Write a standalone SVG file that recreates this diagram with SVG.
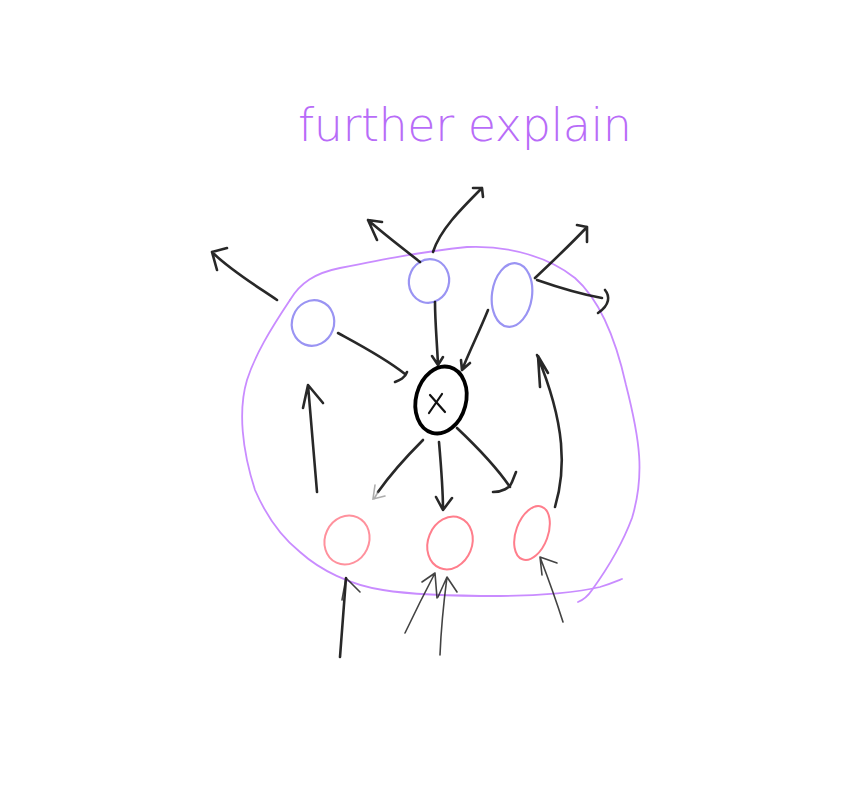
<svg xmlns="http://www.w3.org/2000/svg" width="847" height="792" viewBox="0 0 847 792">
<style>
.ink{fill:none;stroke:#111;stroke-width:2.6;stroke-linecap:round;stroke-linejoin:round;opacity:0.9}
.thin{fill:none;stroke:#222;stroke-width:1.6;stroke-linecap:round;stroke-linejoin:round;opacity:0.85}
.faint{fill:none;stroke:#777;stroke-width:1.6;stroke-linecap:round;opacity:0.6}
.blue{fill:none;stroke:#9a94f3;stroke-width:2.2}
.red{fill:none;stroke:#ff7e8c;stroke-width:2}
.outline{fill:none;stroke:#c98cff;stroke-width:1.8;stroke-linecap:round}
</style>
<rect width="847" height="792" fill="#ffffff"/>
<text x="298" y="141" font-family="DejaVu Sans, Liberation Sans, sans-serif" font-weight="200" font-size="46" fill="#b86cf8" textLength="334" lengthAdjust="spacing">further explain</text>
<g id="boundary">
<path class="outline" d="M290,300 C300,283 315,273 340,268 C380,260 420,252 467,247 C510,245 550,258 575,278 C600,300 616,340 626,385 C640,440 645,475 632,518 C622,545 605,572 592,590 C588,596 583,600 578,602"/>
<path class="outline" d="M290,300 C270,330 255,355 247,380 C238,410 242,450 255,490 C268,520 285,540 300,552 C320,570 350,585 383,590 C420,596 470,596 500,596 C540,596 580,592 600,587 C610,584 617,581 622,579"/>
</g>
<g id="node-a"><ellipse class="blue" cx="313" cy="323" rx="21" ry="23" transform="rotate(20 313 323)"/></g>
<g id="node-b"><ellipse class="blue" cx="429" cy="281" rx="20" ry="22" transform="rotate(15 429 281)"/></g>
<g id="node-c"><ellipse class="blue" cx="512" cy="295" rx="20" ry="32" transform="rotate(8 512 295)"/></g>
<g id="node-x">
<ellipse cx="441" cy="400" rx="25" ry="34" transform="rotate(15 441 400)" fill="none" stroke="#000" stroke-width="3.8"/>
<path d="M430,395 L445,412 M442,394 L429,413" fill="none" stroke="#111" stroke-width="2.2" stroke-linecap="round"/>
</g>
<g id="node-r1"><ellipse class="red" cx="347" cy="540" rx="22" ry="25" transform="rotate(25 347 540)" opacity="0.85"/></g>
<g id="node-r2"><ellipse class="red" cx="450" cy="543" rx="22" ry="27" transform="rotate(22 450 543)" stroke="#ff5f72" stroke-width="2.8"/></g>
<g id="node-r3"><ellipse class="red" cx="532" cy="533" rx="16" ry="28" transform="rotate(20 532 533)"/></g>
<g id="connectors">
<path class="ink" d="M277,300 C255,285 230,270 212,252 M227,248 L212,252 L217,270"/>
<path class="ink" d="M420,262 C405,250 385,235 368,220 M382,222 L368,220 L377,240"/>
<path class="ink" d="M433,252 C440,230 460,210 482,188 M473,188 L482,188 L483,197"/>
<path class="ink" d="M535,278 C552,262 570,245 587,227 M577,225 L587,227 L587,242"/>
<path class="ink" d="M537,280 C560,288 585,295 602,298 M605,290 C610,296 610,305 598,313"/>
<path class="ink" d="M338,333 C360,345 385,358 405,374 M407,372 C405,378 400,380 395,382"/>
<path class="ink" d="M435,302 C435,322 437,342 438,365 M432,356 L438,365 L443,357"/>
<path class="ink" d="M488,310 C480,330 470,350 462,370 M461,360 L462,370 L470,363"/>
<path class="ink" d="M317,492 C314,455 311,420 308,385 M303,408 L308,385 L323,403"/>
<path class="ink" d="M555,507 C566,470 566,425 537,355 M540,387 L538,356 L548,373"/>
<path class="ink" d="M423,440 C405,458 390,475 378,492"/>
<path class="faint" d="M378,492 L374,499 M375,485 L373,499 L385,496"/>
<path class="ink" d="M439,442 C441,465 443,488 443,510 M436,497 L443,510 L452,498"/>
<path class="ink" d="M457,428 C475,445 495,465 510,487 M493,492 C502,492 510,488 512,482 M512,482 L516,472"/>
<path class="ink" d="M340,657 C342,630 344,605 346,578"/>
<path class="thin" d="M342,600 L346,578 L360,592"/>
<path class="thin" d="M405,633 C415,612 425,592 435,573 M422,582 L435,573 L437,598"/>
<path class="thin" d="M440,655 C441,630 444,600 447,577 M438,597 L447,577 L457,592"/>
<path class="thin" d="M563,622 C556,600 548,578 540,557 M542,575 L540,557 L557,563"/>
</g>
</svg>
